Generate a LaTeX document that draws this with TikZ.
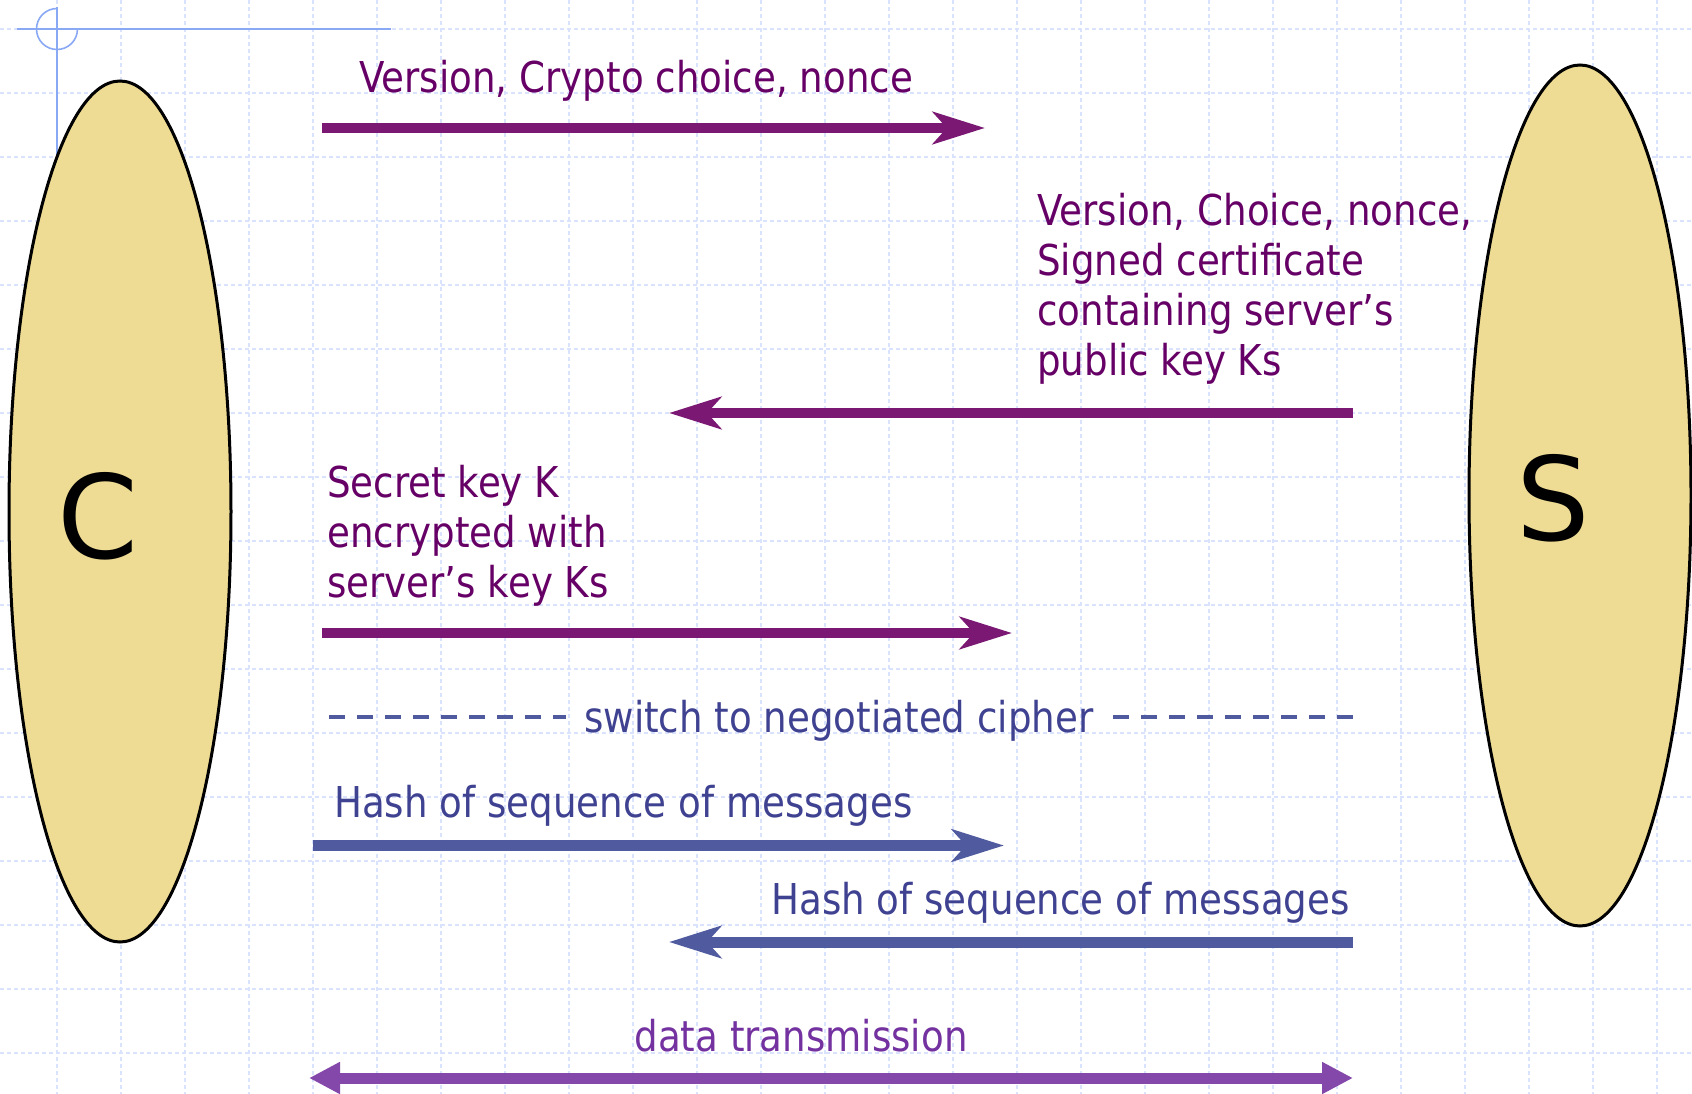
\documentclass[tikz,border=0pt]{standalone}
\usepackage{fontspec}
\setmainfont{DejaVu Sans}[FakeStretch=0.875]
\newfontfamily\bigfont{DejaVu Sans}
\usetikzlibrary{arrows.meta,shapes.geometric}
\definecolor{ptextc}{HTML}{660066}
\definecolor{parrowc}{HTML}{7A1873}
\definecolor{btextc}{HTML}{3F4191}
\definecolor{barrowc}{HTML}{4F5A9F}
\definecolor{darrowc}{HTML}{8448AA}
\definecolor{dtextc}{HTML}{7432A0}
\definecolor{ellfill}{HTML}{EEDC94}
\definecolor{gridc}{HTML}{DAE3FD}
\definecolor{crossc}{HTML}{8AA9F5}
\tikzset{
  gridline/.style={draw=gridc, line width=1.1pt, dash pattern=on 4pt off 3pt},
  crossline/.style={draw=crossc, line width=1.6pt},
  actor/.style={ellipse, draw=black, line width=3pt, fill=ellfill,
    minimum width=222pt, minimum height=861pt, inner sep=0pt},
  bigletter/.style={inner sep=0pt, font=\bigfont\fontsize{116}{120}\selectfont},
  lbl/.style={inner sep=0pt, font=\fontsize{42.5}{50}\selectfont},
  ptext/.style={lbl, text=ptextc},
  btext/.style={lbl, text=btextc},
  dtext/.style={lbl, text=dtextc},
  parrow/.style={draw=parrowc, line width=10pt,
    -{Stealth[length=52pt,width=32pt,inset=14pt]}},
  barrow/.style={draw=barrowc, line width=11pt,
    -{Stealth[length=52pt,width=32pt,inset=14pt]}},
  darrow/.style={draw=darrowc, line width=11pt,
    {Triangle[length=31pt,width=30pt]}-{Triangle[length=31pt,width=30pt]}},
  dashline/.style={draw=barrowc, line width=4pt, dash pattern=on 16pt off 12pt},
}
\begin{document}
\begin{tikzpicture}[x=1pt,y=-1pt]
\useasboundingbox (0,0) rectangle (1692,1094);
\fill[white] (0,0) rectangle (1692,1094);
% background grid
\foreach \gx in {57,121,...,1692} \draw[gridline] (\gx,0) -- (\gx,1094);
\foreach \gy in {29,93,...,1094} \draw[gridline] (0,\gy) -- (1692,\gy);
% crosshair mark
\coordinate (cross) at (57,29);
\draw[crossline] (17,29) -- (391,29);
\draw[crossline] (57,7) -- (57,300);
\draw[crossline] (cross) ++(20.5,0) arc[start angle=0, end angle=270, radius=20.5];
% actors
\node[actor] (C) at (120,511.5) {};
\node[actor] (S) at (1580,495.5) {};
\node[bigletter] (Ct) at (98,516) {C};
\node[bigletter] (St) at (1553,498) {S};
% message 1
\node[ptext, anchor=base west] (t1) at (359,93) {Version, Crypto choice, nonce};
\coordinate (a1s) at (322,128);
\coordinate (a1e) at (985,128);
\draw[parrow] (a1s) -- (a1e);
% message 2 (base = last line)
\node[ptext, anchor=base west, align=left] (t2) at (1037,375)
  {Version, Choice, nonce,\\Signed certificate\\containing server’s\\public key Ks};
\coordinate (a2s) at (1353,413);
\coordinate (a2e) at (669,413);
\draw[parrow] (a2s) -- (a2e);
% message 3 (base = last line)
\node[ptext, anchor=base west, align=left] (t3) at (327,597)
  {Secret key K\\encrypted with\\server’s key Ks};
\coordinate (a3s) at (322,633);
\coordinate (a3e) at (1012,633);
\draw[parrow] (a3s) -- (a3e);
% switch
\node[btext, anchor=base west] (t4) at (584,732) {switch to negotiated cipher};
\coordinate (d1s) at (329,717);
\coordinate (d1e) at (566,717);
\coordinate (d2s) at (1113,717);
\coordinate (d2e) at (1356,717);
\draw[dashline] (d1s) -- (d1e);
\draw[dashline] (d2s) -- (d2e);
% hash 1
\node[btext, anchor=base west] (t5) at (334,817) {Hash of sequence of messages};
\coordinate (a5s) at (313,845.5);
\coordinate (a5e) at (1004,845.5);
\draw[barrow] (a5s) -- (a5e);
% hash 2
\node[btext, anchor=base east] (t6) at (1350,914) {Hash of sequence of messages};
\coordinate (a6s) at (1353,942);
\coordinate (a6e) at (669,942);
\draw[barrow] (a6s) -- (a6e);
% data
\node[dtext, anchor=base] (t7) at (801,1051) {data transmission};
\coordinate (a7s) at (309,1078);
\coordinate (a7e) at (1353,1078);
\draw[darrow] (a7s) -- (a7e);
\end{tikzpicture}
\end{document}
